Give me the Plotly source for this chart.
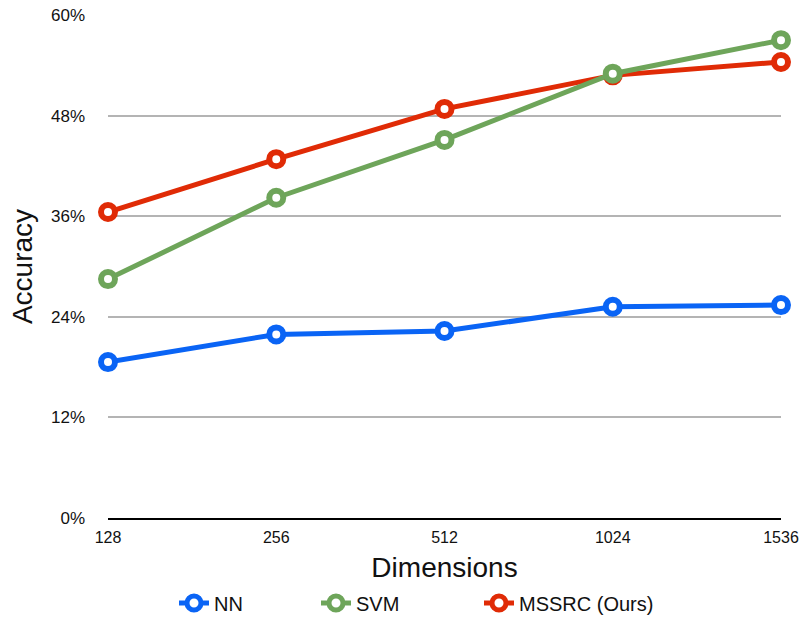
import plotly.graph_objects as go

dimensions = ["128", "256", "512", "1024", "1536"]
nn_acc = [18.6, 21.9, 22.3, 25.2, 25.4]
svm_acc = [28.5, 38.2, 45.1, 53.0, 57.0]
mssrc_acc = [36.5, 42.8, 48.8, 52.8, 54.4]
y_ticks = [0, 12, 24, 36, 48, 60]

# name, values, colour, legend id, legend left edge (container x)
series = [
    ("NN", nn_acc, "#0a64f5", "legend", 174 / 802),
    ("MSSRC (Ours)", mssrc_acc, "#e02b06", "legend3", 479 / 802),
    ("SVM", svm_acc, "#6ea55a", "legend2", 316 / 802),
]

font = "Liberation Sans, Arial, Helvetica, sans-serif"

fig = go.Figure()
legends = {}
for name, vals, color, leg, lx in series:
    fig.add_trace(go.Scatter(
        x=dimensions, y=vals, name=name, mode="lines+markers",
        line=dict(color=color, width=5),
        marker=dict(symbol="circle", size=14, color="white",
                    line=dict(color=color, width=6)),
        cliponaxis=False, legend=leg,
    ))
    legends[leg] = dict(orientation="h", xref="container", yref="container",
                        x=lx, xanchor="left", y=15 / 618, yanchor="middle",
                        font=dict(size=20, family=font),
                        itemwidth=30, bgcolor="rgba(0,0,0,0)")

fig.update_layout(
    width=802, height=618,
    margin=dict(l=108, r=21, t=15, b=100),
    plot_bgcolor="white", paper_bgcolor="white",
    font=dict(family=font, color="#111111", size=16),
    showlegend=True,
    **legends,
    xaxis=dict(
        type="category", range=[0, 4], showgrid=False, automargin=False,
        showline=True, linecolor="black", linewidth=1.5,
        ticks="", tickfont=dict(size=16), ticklabelstandoff=4,
        title=dict(text="Dimensions", font=dict(size=28), standoff=14),
    ),
    yaxis=dict(
        range=[0, 60], tickvals=y_ticks, ticktext=[f"{v}%" for v in y_ticks],
        showgrid=True, gridcolor="#b4b4b4", gridwidth=1.5, zeroline=False,
        automargin=False,
        ticks="", tickfont=dict(size=17), ticklabelstandoff=22,
        title=dict(text="Accuracy", font=dict(size=28), standoff=10),
    ),
)

fig.write_html("out.html")
